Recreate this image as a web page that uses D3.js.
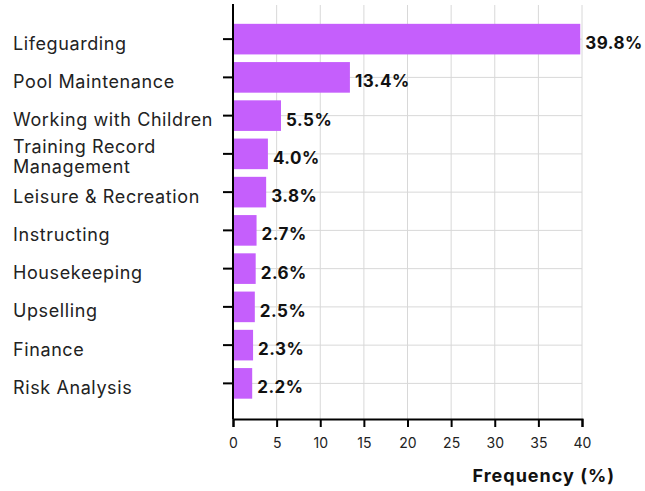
<!DOCTYPE html>
<html>
<head>
<meta charset="utf-8">
<script src="https://cdn.jsdelivr.net/npm/d3@7"></script>
<style>
  body { margin: 0; background: #fff; }
  svg { font-family: "Inter", "Noto Sans", sans-serif; }
</style>
</head>
<body>
<svg id="chart" width="645" height="491"></svg>
<script>
const skills = [
  "Lifeguarding", "Pool Maintenance", "Working with Children",
  "Training Record Management", "Leisure & Recreation", "Instructing",
  "Housekeeping", "Upselling", "Finance", "Risk Analysis"
];
const frequency = [39.8, 13.4, 5.5, 4.0, 3.8, 2.7, 2.6, 2.5, 2.3, 2.2];
const xTicks = [0, 5, 10, 15, 20, 25, 30, 35, 40];

const barColor = "#c55ffc";
const gridColor = "#d8d8d8";

const svg = d3.select("#chart");
const plotLeft = 233, plotRight = 582, plotTop = 4, plotBottom = 419;

const x = d3.scaleLinear().domain([0, 40]).range([plotLeft, plotRight]);
const y = d3.scaleBand().domain(skills).range([20, 402.5])
  .paddingInner(0.2).paddingOuter(0.1);

// grid
svg.append("g").selectAll("line").data(xTicks).enter()
  .append("line")
  .attr("x1", d => x(d)).attr("x2", d => x(d))
  .attr("y1", plotTop + 1).attr("y2", plotBottom)
  .attr("stroke", gridColor).attr("stroke-width", 1);

svg.append("g").selectAll("line").data(skills).enter()
  .append("line")
  .attr("x1", plotLeft).attr("x2", plotRight)
  .attr("y1", d => y(d) + y.bandwidth() / 2).attr("y2", d => y(d) + y.bandwidth() / 2)
  .attr("stroke", gridColor).attr("stroke-width", 1);

// bars
svg.append("g").selectAll("rect").data(skills).enter()
  .append("rect")
  .attr("x", x(0))
  .attr("y", d => y(d))
  .attr("width", (d, i) => x(frequency[i]) - x(0))
  .attr("height", y.bandwidth())
  .attr("fill", barColor);

// value labels
svg.append("g").selectAll("text").data(skills).enter()
  .append("text")
  .attr("x", (d, i) => x(frequency[i]) + 5)
  .attr("y", d => y(d) + y.bandwidth() / 2 + 10)
  .attr("font-size", 17)
  .attr("font-weight", 700)
  .attr("letter-spacing", 0.5)
  .attr("fill", "#111")
  .text((d, i) => frequency[i].toFixed(1) + "%");

// y axis
const yAxis = svg.append("g")
  .attr("transform", `translate(${plotLeft},0)`)
  .call(d3.axisLeft(y).tickSize(10).tickFormat(""));
yAxis.select(".domain").attr("d", `M0,${plotTop}V${plotBottom}`).attr("stroke", "#000").attr("stroke-width", 2);
yAxis.selectAll(".tick line").attr("stroke", "#000").attr("stroke-width", 2);

// category labels, left aligned (long one wrapped on two lines)
svg.append("g").selectAll("text").data(skills).enter()
  .append("text")
  .attr("x", 13)
  .attr("y", d => y(d) + y.bandwidth() / 2)
  .attr("font-size", 18)
  .attr("letter-spacing", 0.6)
  .attr("fill", "#222")
  .each(function (d) {
    const t = d3.select(this);
    const lines = d === "Training Record Management" ? ["Training Record", "Management"] : [d];
    lines.forEach((line, i) => {
      t.append("tspan")
        .attr("x", 13)
        .attr("dy", i === 0 ? (lines.length > 1 ? -0.5 : 10.5) : 19.5)
        .text(line);
    });
  });

// x axis
const xAxis = svg.append("g")
  .attr("transform", `translate(0,${plotBottom})`)
  .call(d3.axisBottom(x).tickValues(xTicks).tickSize(8).tickPadding(11));
xAxis.select(".domain").attr("stroke", "#000").attr("stroke-width", 2);
xAxis.selectAll(".tick line").attr("stroke", "#000").attr("stroke-width", 2);
xAxis.selectAll(".tick text").attr("font-size", 14).attr("fill", "#222")
  .attr("font-family", "Inter, sans-serif");

svg.append("text")
  .attr("x", 615)
  .attr("y", 482)
  .attr("text-anchor", "end")
  .attr("font-size", 18)
  .attr("font-weight", 700)
  .attr("letter-spacing", 1)
  .attr("fill", "#111")
  .text("Frequency (%)");
</script>
</body>
</html>
